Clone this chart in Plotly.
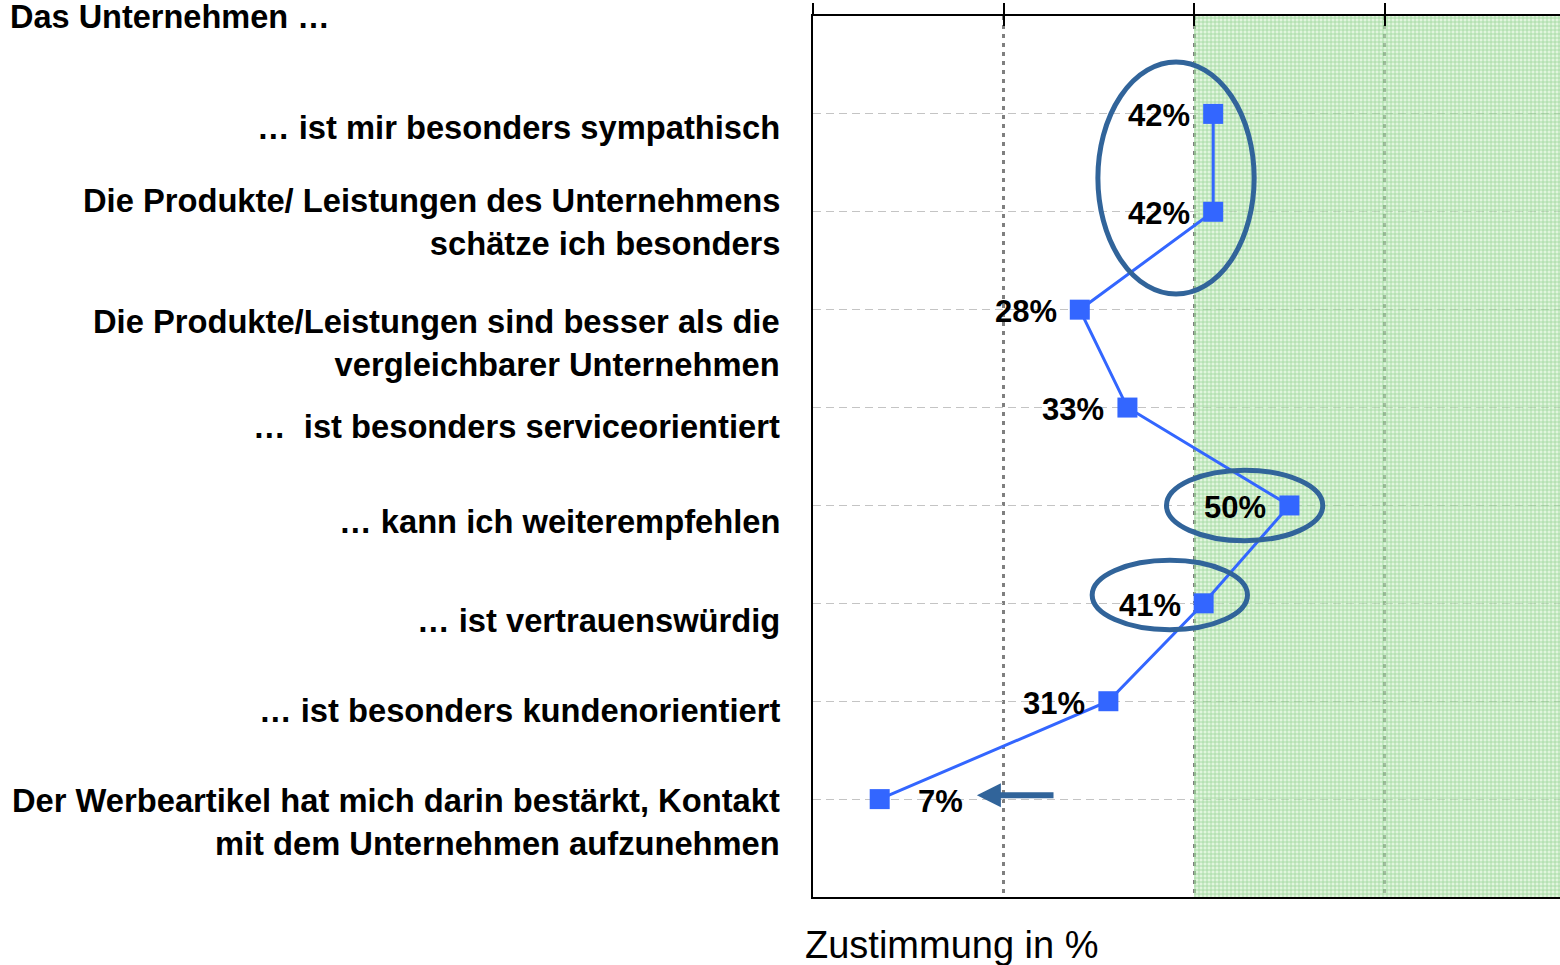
import plotly.graph_objects as go

# Statements, one entry per row (line breaks as printed)
statements = [
    "… ist mir besonders sympathisch",
    "Die Produkte/ Leistungen des Unternehmens<br>schätze ich besonders",
    "Die Produkte/Leistungen sind besser als die<br>vergleichbarer Unternehmen",
    "…  ist besonders serviceorientiert",
    "… kann ich weiterempfehlen",
    "… ist vertrauenswürdig",
    "… ist besonders kundenorientiert",
    "Der Werbeartikel hat mich darin bestärkt, Kontakt<br>mit dem Unternehmen aufzunehmen",
]

# Share of respondents agreeing (%)
agreement = [42, 42, 28, 33, 50, 41, 31, 7]

header_text = "Das Unternehmen …"
axis_title = "Zustimmung in %"

# ---------------------------------------------------------------- layout
W, H = 1560, 965
PLOT_LEFT, PLOT_TOP, PLOT_BOTTOM = 813, 16, 897
X_MAX = 78.4
HIGHLIGHT_FROM = 40

FONT = "Liberation Sans, Arial, sans-serif"
BLUE = "#3366ff"
RING = "#31649a"

rows = list(range(len(agreement)))

# vertical centre (px) of each statement label block
label_center_px = [127, 222, 343, 426, 521, 620, 710, 822]

# ellipses drawn round highlighted points: (x0, x1, y0, y1) in axis units
rings = [(29.9, 46.3, -0.53, 1.84), (37.1, 53.5, 3.64, 4.36), (29.3, 45.6, 4.56, 5.27)]


def py(px):
    return 1 - px / H


fig = go.Figure()

# shaded zone right of the 40 % mark
fig.add_trace(go.Bar(
    x=[X_MAX - HIGHLIGHT_FROM], base=[HIGHLIGHT_FROM], y=[3.5], width=[9],
    orientation="h",
    marker=dict(
        color="rgba(190,230,184,0.6)",
        line=dict(width=0),
        pattern=dict(shape="+", fgcolor="rgba(80,180,80,0.85)",
                     bgcolor="rgba(200,236,194,0.55)", size=4, solidity=0.4),
    ),
    hoverinfo="skip", showlegend=False,
))

fig.add_trace(go.Scatter(
    x=agreement, y=rows, mode="lines+markers",
    line=dict(color=BLUE, width=3),
    marker=dict(symbol="square", size=20, color=BLUE, line=dict(width=0)),
    hoverinfo="skip", showlegend=False,
))

# overlay axis carrying the inward half of the top ticks
fig.add_trace(go.Scatter(x=[], y=[], xaxis="x2", showlegend=False, hoverinfo="skip"))

annotations = []

# value labels
for r, v in zip(rows, agreement):
    right_side = v < 10
    annotations.append(dict(
        x=v, y=r, xref="x", yref="y", text=f"{v}%", showarrow=False,
        xanchor="left" if right_side else "right", yanchor="middle",
        xshift=36 if right_side else -21, yshift=-2,
        font=dict(family=FONT, size=31, color="black", weight="bold")))

# statement labels
for text, p in zip(statements, label_center_px):
    annotations.append(dict(x=782 / W, y=py(p), xref="paper", yref="paper", text=text,
                            showarrow=False, xanchor="right", yanchor="middle", align="right",
                            font=dict(family=FONT, size=32.7, color="black", weight="bold")))

annotations.append(dict(x=8 / W, y=py(17), xref="paper", yref="paper", text=header_text,
                        showarrow=False, xanchor="left", yanchor="middle",
                        font=dict(family=FONT, size=32.5, color="black", weight="bold")))

annotations.append(dict(x=803 / W, y=py(945), xref="paper", yref="paper", text=axis_title,
                        showarrow=False, xanchor="left", yanchor="middle",
                        font=dict(family=FONT, size=38, color="black")))

# arrow pointing at the lowest value
annotations.append(dict(x=17.2, y=6.96, ax=25.4, ay=6.96, xref="x", yref="y",
                        axref="x", ayref="y", text="", showarrow=True,
                        arrowhead=2, arrowsize=0.8, arrowwidth=6, arrowcolor=RING))

shapes = [dict(type="circle", xref="x", yref="y", x0=a, x1=b, y0=c, y1=d,
               line=dict(color=RING, width=5), layer="above") for a, b, c, d in rings]

x_domain = [PLOT_LEFT / W, 1]
y_domain = [1 - PLOT_BOTTOM / H, 1 - PLOT_TOP / H]

fig.update_layout(
    width=W, height=H,
    margin=dict(l=0, r=0, t=0, b=0),
    paper_bgcolor="white", plot_bgcolor="white",
    bargap=0,
    xaxis=dict(domain=x_domain, range=[0, X_MAX], side="top",
               tickvals=[0, 20, 40, 60], showticklabels=False,
               ticks="outside", ticklen=11, tickwidth=2, tickcolor="black",
               showline=True, linecolor="black", linewidth=2, mirror=True,
               showgrid=True, gridcolor="#7f7f7f", gridwidth=2.5, griddash="4px,5px",
               zeroline=False, fixedrange=True),
    xaxis2=dict(domain=x_domain, range=[0, X_MAX], overlaying="x", side="top", anchor="y",
                tickvals=[0, 20, 40, 60], showticklabels=False,
                ticks="inside", ticklen=10, tickwidth=2, tickcolor="black",
                showline=False, showgrid=False, zeroline=False),
    yaxis=dict(domain=y_domain, range=[8, -1], tickvals=rows, showticklabels=False,
               ticks="", showline=True, linecolor="black", linewidth=2,
               showgrid=True, gridcolor="#c4c4c4", gridwidth=1, griddash="8px,5px",
               zeroline=False, fixedrange=True),
    annotations=annotations,
    shapes=shapes,
)

fig.write_html("out.html")
